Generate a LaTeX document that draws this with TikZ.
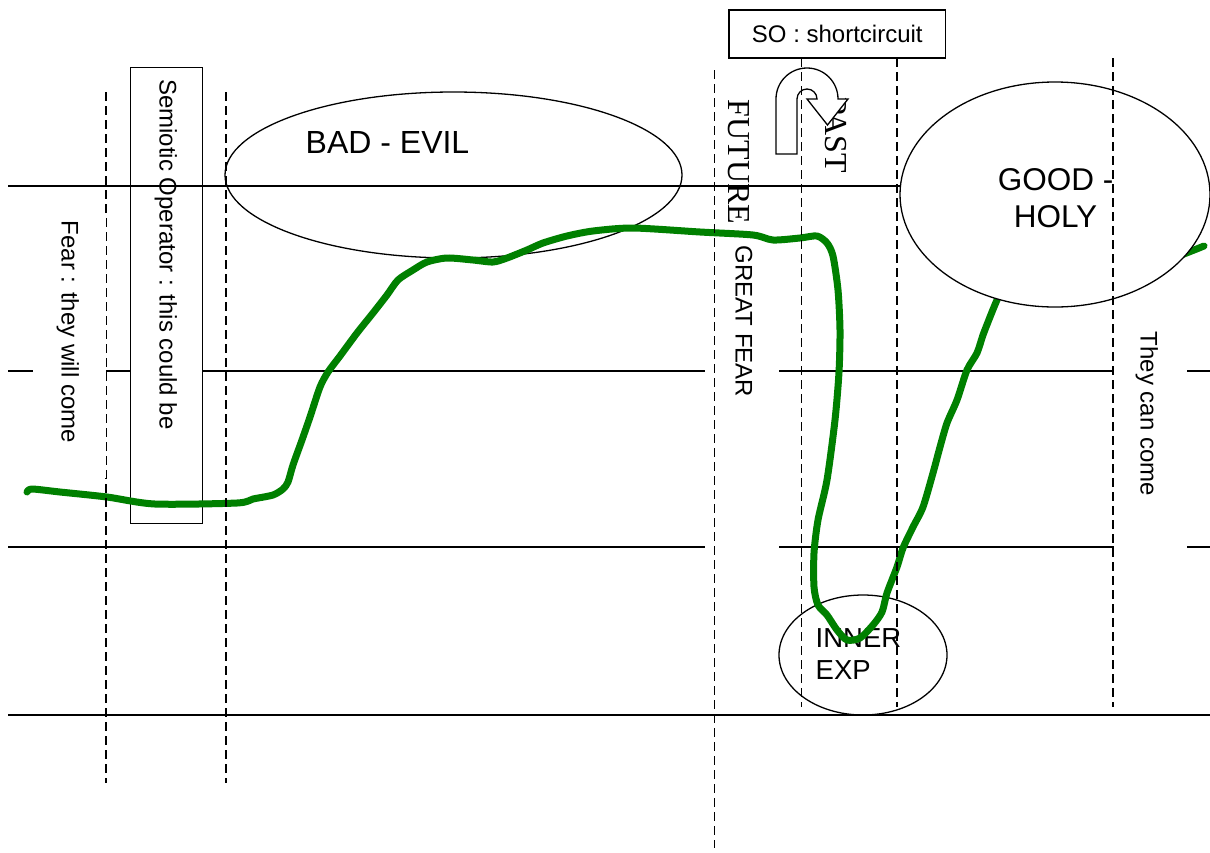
\documentclass[tikz,border=0pt]{standalone}
\usepackage{fontspec}
\setmainfont{Liberation Sans}
\newfontfamily\timesf{Liberation Serif}
\usetikzlibrary{shapes.geometric}
\definecolor{pathgreen}{RGB}{0,128,0}
\tikzset{
  thin line/.style={line width=1.3pt, black},
  dash line/.style={line width=1.4pt, black, dash pattern=on 9pt off 5pt},
  lab/.style={font=\fontsize{24}{28}\selectfont, inner sep=0pt},
  vlab/.style={lab, rotate=-90, anchor=base west},
  vserif/.style={font=\timesf\fontsize{32}{38}\selectfont, inner sep=0pt, rotate=-90, anchor=base west},
  bigl/.style={font=\fontsize{32}{38}\selectfont, inner sep=0pt},
  whitebg/.style={fill=white, draw=none, inner sep=0pt, anchor=north west},
  oval/.style={ellipse, draw, line width=1.3pt, inner sep=0pt},
  greenline/.style={pathgreen, line width=7pt, line join=round, line cap=round}
}
\begin{document}
\begin{tikzpicture}[x=1pt,y=-1pt]
\useasboundingbox (0,0) rectangle (1210,852);
\fill[white] (0,0) rectangle (1210,852);
% horizontal lines (lower three)
\draw[thin line] (8,371) -- (1210,371);
\draw[thin line] (8,547) -- (1210,547);
\draw[thin line] (8,715) -- (1210,715);
% semiotic operator box
\node[draw, fill=white, line width=1.3pt, inner sep=0pt, anchor=north west,
      minimum width=72pt, minimum height=456pt] (semibox) at (130,67) {};
% top line
\draw[thin line] (8,186) -- (1210,186);
% white backgrounds of vertical labels
\node[whitebg, minimum width=74pt, minimum height=318pt] (greatbg) at (705,242) {};
\node[whitebg, minimum width=73.5pt, minimum height=233pt] (canbg) at (1113.6,327) {};
% ellipses
\node[oval, minimum width=457pt, minimum height=166pt] (badevil) at (453.5,175) {};
\node[oval, minimum width=168pt, minimum height=120pt] (inner) at (863,655) {};
% texts
\node[bigl, anchor=base west] (badtxt) at (305.5,153.5) {BAD - EVIL};
\node[font=\fontsize{27.5}{32}\selectfont, inner sep=0pt, anchor=base west] (innertxt) at (815.5,647) {INNER};
\node[font=\fontsize{27.5}{32}\selectfont, inner sep=0pt, anchor=base west] (exptxt) at (815.5,679) {EXP};
\node[vserif] (future) at (728.5,99.5) {FUTURE};
\node[vserif] (past) at (825.5,97.5) {PAST};
\node[vlab] (greatfear) at (735.5,245.5) {GREAT FEAR};
\node[vlab] (cancome) at (1140.5,331.5) {They can come};
\node[vlab] (semitxt) at (159.5,79) {Semiotic Operator : this could be};
% U-turn arrow
\draw[thin line, fill=white] (776,154) -- (776,99) arc[start angle=180, end angle=360, radius=31]
  -- (848,99) -- (827.5,125) -- (807,99) -- (817,99)
  arc[start angle=360, end angle=180, radius=10] -- (797,154) -- cycle;
% green path
\draw[greenline] plot[smooth, tension=0.45] coordinates {
 (27,492) (32,489) (60,492) (107,497) (155,504) (237,503) (253,499) (273,495)
 (283,489) (288,482) (293,465) (302,440) (310,417) (320,387) (328,372) (340,356)
 (357,333) (373,313) (387,295) (398,280) (413,270) (427,262) (447,258) (473,260)
 (493,262) (507,258) (527,250) (543,243) (567,236) (593,231) (633,228) (700,232)
 (753,235) (773,240) (800,238) (817,236) (827,243) (833,256) (838,290) (840,330)
 (839,372) (835,420) (827,480) (818,520) (814,553) (814,587) (818,605) (827,615)
 (837,630) (847,640) (860,638) (873,625) (882,612) (887,593) (897,567) (903,548)
 (913,527) (923,507) (933,473) (940,447) (947,423) (957,400) (967,370) (977,353)
 (983,335) (990,317) (997,300) (1004,287) (1100,272) (1150,266) (1204,246)};
% good - holy
\node[oval, fill=white, minimum width=310pt, minimum height=225pt] (good) at (1055,194.5) {};
\node[bigl, font=\fontsize{31.5}{37}\selectfont, anchor=base] (goodtxt) at (1055.5,190) {GOOD -};
\node[bigl, font=\fontsize{31.5}{37}\selectfont, anchor=base] (holytxt) at (1055.5,227) {HOLY};
% dashed vertical lines
\draw[dash line] (106,92) -- (106,783);
\draw[dash line] (226,92) -- (226,783);
\draw[dash line] (714.5,70) -- (714.5,848);
\draw[dash line] (801.5,58) -- (801.5,707);
\draw[dash line] (897,58) -- (897,707);
\draw[dash line] (1113,58) -- (1113,707);
% fear label
\node[whitebg, minimum width=72.8pt, minimum height=261pt] (fearbg) at (33,217) {};
\node[vlab] (feartxt) at (61.7,220.5) {Fear : they will come};
% SO box
\node[draw, fill=white, line width=1.3pt, lab, minimum width=216.7pt, minimum height=48pt] (so) at (837.3,34) {SO : shortcircuit};
\end{tikzpicture}
\end{document}
